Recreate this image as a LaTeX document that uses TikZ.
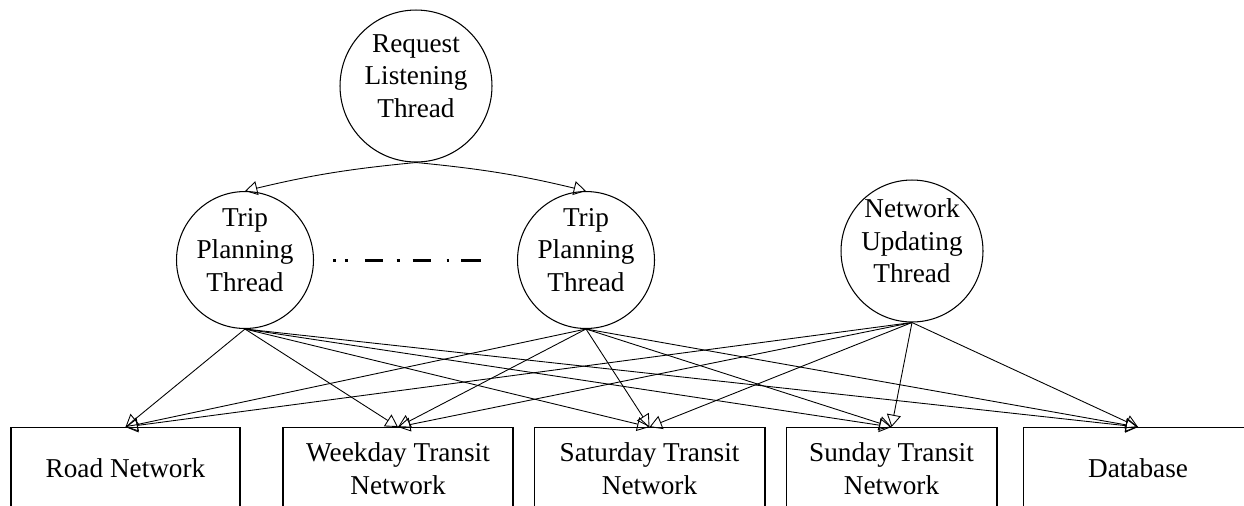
\documentclass[tikz,border=0pt]{standalone}
\usepackage{fontspec}
\setmainfont{Liberation Serif}
\usetikzlibrary{arrows.meta,positioning}
\tikzset{
  thread/.style={
    circle, draw, line width=0.6pt, inner sep=0pt
  },
  threadtext/.style={
    align=center, font=\fontsize{15.5}{18.5}\selectfont, yshift=0.2cm
  },
  store/.style={
    rectangle, draw, line width=0.6pt, anchor=north,
    minimum height=1.64cm, align=center,
    font=\fontsize{15.5}{18.5}\selectfont
  },
  arrow/.style={-{Triangle[open,length=7pt,width=8pt]}, line width=0.5pt},
  ellipsis/.style={
    line width=1.7pt,
    dash pattern=on 1.7pt off 5.1pt on 1.7pt off 9.6pt on 10.2pt off 7.9pt
      on 1.7pt off 7.4pt on 10.2pt off 9.1pt on 1.7pt off 6.8pt on 11.3pt off 20pt
  },
}

\begin{document}
\begin{tikzpicture}[x=0.02cm, y=-0.02cm]
  \useasboundingbox (0,0) rectangle (1244,505);
  \clip (0,0) rectangle (1244,505);

  % Threads
  \node[thread, minimum size=3.04cm,
    label={[threadtext]center:Request\\Listening\\Thread}] (listen) at (416,86) {};
  \node[thread, minimum size=2.74cm,
    label={[threadtext]center:Trip\\Planning\\Thread}] (tripA) at (245,260) {};
  \node[thread, minimum size=2.74cm,
    label={[threadtext]center:Trip\\Planning\\Thread}] (tripB) at (586,260) {};
  \node[thread, minimum size=2.84cm,
    label={[threadtext]center:Network\\Updating\\Thread}] (update) at (912,251) {};

  % More planning threads in between
  \coordinate (moreL) at (333,260);
  \coordinate (moreR) at (482,260);
  \draw[ellipsis] (moreL) -- (moreR);

  % Shared data — one row along the bottom
  \node[store, minimum width=4.58cm] (road) at (125.5,427) {Road Network};
  \node[store, minimum width=4.6cm, right=0.84cm of road.north east, anchor=north west]
    (weekday) {Weekday Transit\\Network};
  \node[store, minimum width=4.62cm, right=0.4cm of weekday.north east, anchor=north west]
    (saturday) {Saturday Transit\\Network};
  \node[store, minimum width=4.22cm, right=0.4cm of saturday.north east, anchor=north west]
    (sunday) {Sunday Transit\\Network};
  \node[store, minimum width=4.6cm, right=0.5cm of sunday.north east, anchor=north west]
    (db) {Database};

  % Listener spawns planning threads
  \draw[arrow] (listen.south) to[bend right=4] (tripA.north);
  \draw[arrow] (listen.south) to[bend left=4] (tripB.north);

  % First planning thread
  \draw[arrow] (tripA.south) -- (road.north);
  \draw[arrow] (tripA.south) -- (weekday.north);
  \draw[arrow] (tripA.south) -- (saturday.north);
  \draw[arrow] (tripA.south) -- (sunday.north);
  \draw[arrow] (tripA.south) -- (db.north);

  % Last planning thread
  \draw[arrow] (tripB.south) -- (road.north);
  \draw[arrow] (tripB.south) -- (weekday.north);
  \draw[arrow] (tripB.south) -- (saturday.north);
  \draw[arrow] (tripB.south) -- (sunday.north);
  \draw[arrow] (tripB.south) -- (db.north);

  % Updating thread
  \draw[arrow] (update.south) -- (road.north);
  \draw[arrow] (update.south) -- (weekday.north);
  \draw[arrow] (update.south) -- (saturday.north);
  \draw[arrow] (update.south) -- (sunday.north);
  \draw[arrow] (update.south) -- (db.north);
\end{tikzpicture}
\end{document}
